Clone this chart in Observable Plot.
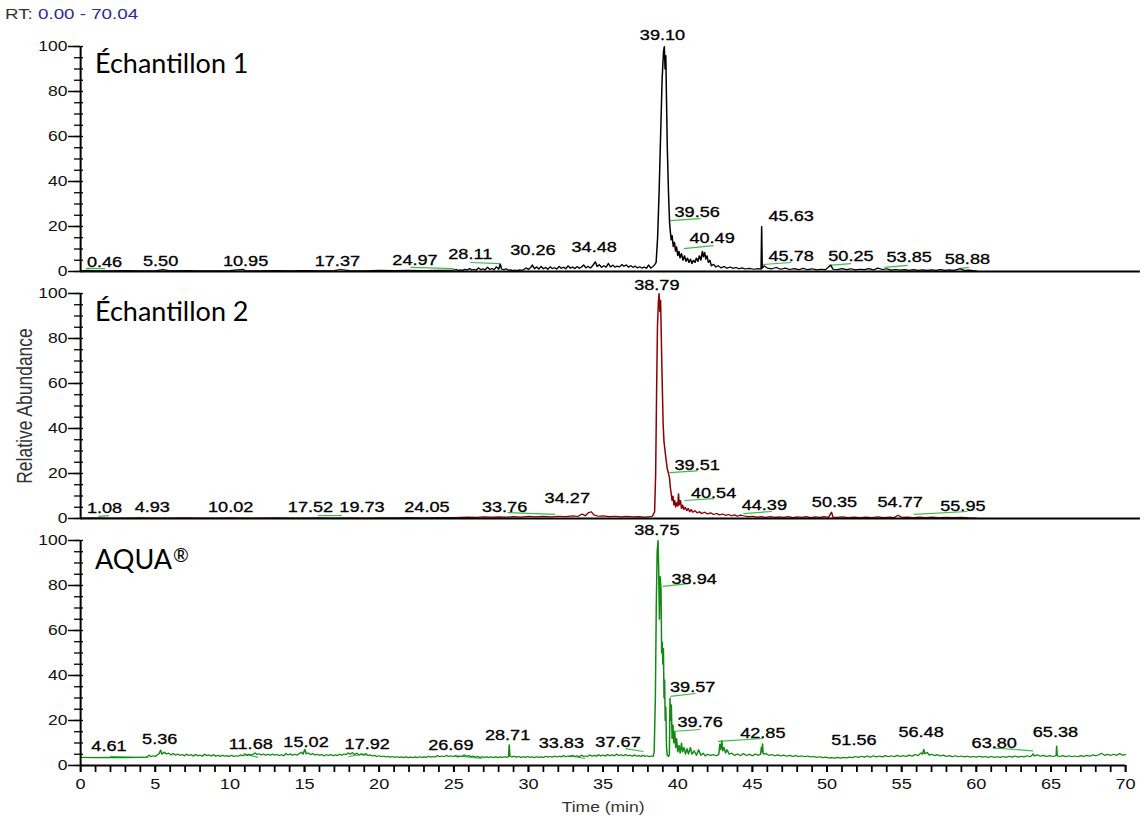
<!DOCTYPE html>
<html><head><meta charset="utf-8">
<script src="https://cdn.jsdelivr.net/npm/d3@7"></script>
<script src="https://cdn.jsdelivr.net/npm/@observablehq/plot@0.6"></script>
<style>
body{margin:0;background:#fff;}
#wrap{position:relative;width:1144px;height:823px;overflow:hidden;background:#fff}
#stretch{position:absolute;left:0;top:0;width:915.2px;height:823px;transform:scaleX(1.25);transform-origin:0 0}
#rt{position:absolute;left:4px;top:5px;font:15px "Liberation Sans",Arial,sans-serif;color:#333;white-space:nowrap}
#rt span{color:#2a2a9c}
.title{position:absolute;left:95px;font:27px Lato,sans-serif;line-height:27px;color:#000;white-space:nowrap}
.title sup{font-size:19px;vertical-align:0;position:relative;top:-7px;margin-left:1px}
</style></head>
<body>
<div id="wrap"><div id="stretch"><div id="rt">RT: <span>0.00 - 70.04</span></div><div id="chart"></div></div></div>
<script>
// ---- data ----
const panelTitles = [["Échantillon 1", ""], ["Échantillon 2", ""], ["AQUA", "®"]];
const panelColors = ["#000000", "#8b0000", "#128a12"];
const xTicks = d3.range(0, 71, 5);
const yTicks = [0, 20, 40, 60, 80, 100];

// Panel 1 trace [time (min), relative abundance (%)]
const trace1 = [[0,0.3],[0.5,0.5],[1,0.3],[2,0.3],[3,0.4],[4,0.3],[5,0.3],[5.5,0.8],[6,0.3],[7,0.4],[8,0.3],[9,0.3],[10,0.4],[10.9,0.9],[11,0.4],[12,0.3],[13,0.4],[14,0.3],[15,0.4],[16,0.3],[17,0.4],[17.4,0.9],[18,0.4],[19,0.3],[20,0.5],[21,0.4],[22,0.5],[23,0.4],[24,0.5],
[25.0,0.6],[25.15,0.9],[25.3,0.5],[25.45,0.7],[25.6,0.5],[25.75,1.0],[25.9,0.6],[26.05,1.3],[26.2,0.7],[26.35,0.9],[26.5,0.6],[26.65,1.6],[26.8,0.8],[26.95,1.2],[27.1,0.7],[27.25,1.9],[27.4,0.9],[27.55,1.3],[27.7,0.8],[27.85,2.1],[28.0,1.0],[28.11,3.3],[28.2,1.1],[28.35,0.8],[28.5,1.2],[28.65,0.6],[28.8,0.7],[28.95,0.4],[29.1,0.6],[29.25,0.4],[29.4,0.7],[29.55,0.5],[29.7,0.9],[29.85,1.6],[30.0,0.9],[30.15,1.8],[30.26,2.9],[30.4,1.2],[30.55,2.0],[30.7,1.1],[30.85,2.3],[31.0,1.2],[31.15,1.8],[31.3,1.0],[31.45,2.1],[31.6,1.3],[31.75,1.7],[31.9,1.1],[32.05,2.3],[32.2,1.4],[32.35,1.9],[32.5,1.2],[32.65,2.5],[32.8,1.5],[32.95,2.0],[33.1,1.3],[33.25,2.2],[33.4,1.4],[33.55,2.0],[33.7,2.9],[33.85,1.6],[34.0,2.3],[34.15,1.5],[34.3,2.6],[34.48,4.3],[34.6,2.2],[34.75,3.0],[34.9,1.8],[35.05,2.6],[35.2,1.9],[35.35,3.6],[35.5,2.0],[35.65,2.8],[35.8,1.9],[35.95,2.4],[36.1,2.0],[36.25,3.1],[36.4,2.3],[36.55,2.9],[36.7,1.9],[36.85,2.6],[37.0,1.8],[37.15,2.4],[37.3,1.6],[37.45,2.1],[37.6,1.5],[37.75,2.0],[37.9,1.4],[38.05,2.9],[38.2,1.5],[38.35,2.3],[38.45,3.0],[38.55,4],
[38.65,15],[38.75,35],[38.85,60],[38.95,85],[39.0,92],[39.05,98],[39.1,100],[39.15,90],[39.2,96],[39.25,75],[39.3,55],[39.38,35],[39.45,22],[39.5,18],[39.56,14],[39.62,16],[39.7,11],[39.78,13],[39.85,9],[39.92,11],[40.0,7],[40.08,9],[40.15,6],[40.25,8],[40.35,5],[40.45,7],[40.55,4.5],[40.65,6],[40.75,4],[40.85,5.5],[40.95,3.5],[41.05,5],[41.15,4],[41.25,6],[41.35,4.5],[41.45,7],[41.55,5],[41.65,9],[41.72,6.5],[41.8,8.5],[41.88,5.5],[41.96,7],[42.05,4],[42.15,5],[42.25,2.5],[42.4,3.2],[42.55,2],[42.7,2.6],[42.9,1.6],[43.1,2.2],[43.3,1.4],[43.5,2.0],[43.7,1.4],[43.9,1.8],[44.1,1.2],[44.3,1.6],[44.5,1.1],[44.8,1.4],[45.1,1.0],[45.4,1.3],[45.58,1.0],[45.62,20],[45.66,1.5],[45.8,2.5],[46.0,1.5],[46.3,1.2],[46.6,1.8],[46.9,1.0],[47.2,1.5],[47.5,0.9],[47.8,1.3],[48.1,0.8],[48.4,1.4],[48.7,0.8],[49.0,1.2],[49.3,0.7],[49.6,1.0],[49.9,0.8],[50.25,2.8],[50.4,1.0],[50.7,0.8],[51.0,1.3],[51.3,0.8],[51.6,1.2],[51.9,0.7],[52.2,1.0],[52.5,0.8],[52.8,1.3],[53.1,0.7],[53.4,1.5],[53.7,0.9],[54.0,1.2],[54.3,0.6],[54.6,0.9],[54.9,0.6],[55.2,0.8],[55.5,0.5],[55.8,0.8],[56.1,0.5],[56.4,0.7],[56.7,0.5],[57.0,0.7],[57.3,0.5],[57.6,0.8],[57.9,0.5],[58.2,0.7],[58.5,0.5],[58.9,1.2],[59.2,0.5],[59.5,0.6],[59.8,0.4],[60.0,0.3]];

// Panel 2 trace
const trace2 = [[0,0.2],[1,0.3],[2,0.2],[3,0.2],[4,0.3],[5,0.2],[6,0.2],[7,0.3],[8,0.2],[9,0.2],[10,0.3],[11,0.2],[12,0.2],[13,0.3],[14,0.2],[15,0.2],[16,0.3],[17,0.2],[18,0.3],[19,0.2],[20,0.3],[21,0.3],[22,0.4],[23,0.3],[24,0.4],[25,0.4],
[25.5,0.5],[26,0.6],[26.5,0.5],[27,0.7],[27.5,0.6],[28,0.7],[28.5,0.6],[29,0.8],[29.5,0.6],[30,0.9],[30.5,0.7],[31,0.9],[31.5,0.7],[32,1.0],[32.5,0.8],[33,1.2],[33.3,0.9],[33.6,2.0],[33.8,1.2],[34.0,2.5],[34.2,3.0],[34.4,1.5],[34.7,1.0],[35,1.2],[35.4,0.8],[35.8,1.0],[36.2,0.7],[36.6,0.9],[37,0.7],[37.4,0.8],[37.8,0.6],[38.1,0.8],[38.3,1.0],[38.45,3],
[38.52,20],[38.58,55],[38.64,85],[38.7,96],[38.75,100],[38.8,92],[38.85,97],[38.9,80],[38.96,60],[39.02,42],[39.08,34],[39.15,30],[39.22,26],[39.3,22],[39.38,20],[39.45,18],[39.5,14],[39.56,11],[39.62,8],[39.68,10],[39.74,6],[39.8,8],[39.86,5],[39.92,7],[40.0,5.5],[40.05,11],[40.1,6],[40.18,8],[40.25,4.5],[40.33,6],[40.4,4],[40.5,5],[40.6,3.5],[40.7,4.5],[40.8,3],[40.9,4],[41.0,2.8],[41.15,3.5],[41.3,2.5],[41.45,3],[41.6,2.2],[41.8,2.8],[42.0,2.0],[42.2,2.5],[42.4,1.8],[42.6,2.2],[42.8,1.6],[43.0,2.0],[43.2,1.4],[43.4,1.8],[43.6,1.2],[43.8,1.6],[44.0,1.0],[44.2,1.5],[44.4,1.2],[44.7,0.8],[45.0,1.0],[45.3,0.6],[45.6,0.8],[45.9,0.5],[46.2,0.8],[46.5,0.5],[46.8,0.7],[47.1,0.5],[47.4,0.8],[47.7,0.4],[48.0,0.7],[48.3,0.5],[48.6,0.8],[48.9,0.4],[49.2,0.7],[49.5,0.5],[49.8,0.8],[50.1,0.5],[50.3,2.8],[50.4,0.6],[50.7,0.5],[51.0,0.7],[51.4,0.4],[51.8,0.6],[52.2,0.4],[52.6,0.6],[53.0,0.4],[53.4,0.7],[53.8,0.4],[54.2,0.6],[54.5,0.4],[54.75,1.4],[55.0,0.5],[55.4,0.6],[55.8,0.4],[56.2,0.6],[56.6,0.4],[57.0,0.6],[57.5,0.4],[58.0,0.5],[58.5,0.4],[59.0,0.5],[59.5,0.3],[60.0,0.2]];

// Panel 3 trace
const trace3 = [[0,3.6],[1,3.5],[2,3.6],[3,3.5],[4,3.6],[4.4,3.7],[4.6,4.6],[4.7,3.9],[4.85,4.3],[5.0,4.0],[5.15,4.8],[5.25,5.2],[5.36,6.8],[5.45,5.0],[5.6,5.9],[5.75,5.1],[5.9,5.5],[6.05,4.7],[6.2,5.3],[6.35,4.6],[6.5,5.1],[6.65,4.5],[6.8,4.9],[6.95,4.3],[7.1,5.0],[7.25,4.4],[7.4,4.8],[7.55,4.2],[7.7,4.9],[7.85,4.3],[8.0,4.6],[8.15,4.1],[8.3,5.0],[8.45,4.4],[8.6,4.7],[8.75,4.2],[8.9,4.8],[9.05,4.1],[9.2,4.5],[9.35,4.0],[9.5,4.6],[9.65,4.1],[9.8,4.4],[9.95,4.0],[10.1,4.5],[10.25,4.0],[10.4,4.3],[10.55,4.1],[10.7,4.7],[10.85,4.3],[11.0,4.8],[11.15,4.4],[11.3,5.0],[11.45,4.6],[11.6,5.2],[11.68,5.6],[11.8,4.9],[11.95,5.2],[12.1,4.7],[12.25,5.1],[12.4,4.6],[12.55,5.0],[12.7,4.5],[12.85,5.1],[13.0,4.6],[13.15,4.9],[13.3,4.4],[13.45,4.8],[13.6,4.3],[13.75,5.4],[13.9,4.6],[14.05,5.2],[14.2,4.5],[14.35,5.0],[14.5,4.6],[14.65,5.3],[14.8,5.9],[14.9,5.0],[15.02,7.2],[15.12,5.1],[15.25,5.6],[15.4,4.8],[15.55,5.3],[15.7,4.6],[15.85,5.0],[16.0,4.5],[16.15,4.9],[16.3,4.3],[16.45,4.8],[16.6,4.4],[16.75,4.9],[16.9,4.3],[17.05,4.7],[17.2,4.4],[17.35,5.0],[17.5,4.5],[17.65,5.1],[17.8,4.8],[17.92,5.6],[18.05,5.0],[18.2,5.7],[18.35,4.9],[18.5,5.5],[18.65,4.7],[18.8,5.2],[18.95,4.5],[19.1,5.0],[19.25,4.4],[19.4,4.7],[19.55,4.2],[19.7,4.5],[19.85,4.0],[20.0,4.3],[20.15,3.9],[20.3,4.2],[20.45,3.8],[20.6,4.0],[20.75,3.7],[20.9,4.0],[21.05,3.6],[21.2,3.9],[21.35,3.6],[21.5,3.8],[21.65,3.5],[21.8,3.8],[21.95,3.5],[22.1,3.7],[22.25,3.5],[22.4,3.8],[22.55,3.5],[22.7,3.9],[22.85,3.6],[23.0,3.8],[23.15,3.6],[23.3,4.1],[23.45,3.7],[23.6,4.0],[23.75,3.8],[23.9,4.4],[24.05,3.9],[24.2,4.2],[24.35,3.9],[24.5,4.5],[24.65,4.0],[24.8,4.3],[24.95,3.9],[25.1,4.3],[25.25,3.8],[25.4,4.1],[25.55,4.0],[25.7,4.7],[25.85,4.1],[26.0,4.4],[26.15,3.9],[26.3,4.2],[26.45,3.7],[26.6,4.0],[26.75,3.6],[26.9,3.9],[27.05,3.6],[27.2,3.8],[27.35,3.5],[27.5,3.9],[27.65,3.5],[27.8,3.8],[27.95,3.5],[28.1,3.8],[28.25,3.6],[28.4,3.9],[28.55,3.6],[28.66,4.0],[28.71,9.2],[28.76,4.1],[28.9,3.8],[29.05,4.1],[29.2,3.7],[29.35,4.0],[29.5,3.6],[29.65,3.9],[29.8,3.6],[29.95,4.0],[30.1,3.6],[30.25,3.9],[30.4,3.5],[30.55,3.9],[30.7,3.6],[30.85,3.8],[31.0,3.6],[31.15,4.1],[31.3,3.7],[31.45,4.0],[31.6,3.7],[31.75,4.2],[31.9,3.8],[32.05,4.1],[32.2,3.8],[32.35,4.4],[32.5,3.9],[32.65,4.2],[32.8,3.9],[32.95,4.5],[33.1,4.0],[33.25,4.3],[33.4,3.9],[33.55,4.6],[33.7,4.0],[33.83,4.2],[33.95,4.0],[34.1,4.7],[34.25,4.1],[34.4,4.5],[34.55,4.1],[34.7,4.8],[34.85,4.2],[35.0,4.6],[35.15,4.2],[35.3,4.9],[35.45,4.3],[35.6,4.7],[35.75,4.3],[35.9,5.1],[36.05,4.4],[36.2,4.8],[36.35,4.3],[36.5,4.9],[36.65,4.3],[36.8,4.6],[36.95,4.1],[37.1,4.7],[37.25,4.1],[37.4,4.4],[37.55,4.0],[37.67,4.6],[37.8,4.0],[37.95,4.3],[38.1,3.9],[38.25,4.2],[38.35,4.0],[38.42,6],
[38.5,30],[38.56,70],[38.62,95],[38.68,100],[38.72,88],[38.77,65],[38.82,84],[38.88,78],[38.92,50],[38.96,55],[39.0,45],[39.04,52],[39.08,30],[39.12,38],[39.16,20],[39.2,26],[39.25,8],[39.3,4.5],[39.38,4],[39.44,5],[39.48,30],[39.52,20],[39.57,27],[39.62,12],[39.68,18],[39.74,10],[39.8,15],[39.86,8],[39.92,12],[40.0,6],[40.08,9],[40.16,5.5],[40.25,10],[40.32,6],[40.42,8],[40.52,5],[40.62,7.5],[40.72,5],[40.85,8],[40.95,5],[41.1,6.5],[41.25,4.5],[41.4,7],[41.55,4.5],[41.7,5.5],[41.85,4.2],[42.0,5.0],[42.2,4.5],[42.4,4.8],[42.6,4.3],[42.75,5],[42.82,9.5],[42.88,7],[42.95,11],[43.02,6.5],[43.1,8],[43.2,5.5],[43.3,7],[43.45,5],
[43.6,5.5],[43.8,4.5],[44.0,5.1],[44.2,4.4],[44.4,5.3],[44.6,4.4],[44.8,5.0],[45.0,4.3],[45.2,5.1],[45.4,4.5],[45.55,5.0],[45.6,8.2],[45.65,6],[45.68,9.6],[45.72,5.2],[45.9,5.3],[46.1,4.5],[46.3,4.9],[46.5,4.3],[46.7,4.7],[46.9,4.2],[47.1,4.6],[47.3,4.1],[47.5,4.5],[47.7,4.0],[47.9,4.4],[48.1,4.0],[48.3,4.3],[48.5,3.9],[48.7,4.2],[48.9,3.8],[49.1,4.0],[49.3,3.6],[49.5,3.9],[49.7,3.5],[49.9,3.7],[50.1,3.3],[50.3,3.5],[50.5,3.3],[50.7,3.6],[50.9,3.3],[51.1,3.6],[51.3,3.4],[51.5,3.7],[51.7,3.5],[51.9,4.0],[52.1,3.6],[52.3,4.1],[52.5,3.7],[52.7,4.2],[52.9,3.7],[53.1,4.3],[53.3,3.8],[53.5,4.2],[53.7,3.8],[53.9,4.4],[54.1,3.9],[54.3,4.3],[54.5,3.9],[54.7,4.5],[54.9,4.0],[55.1,4.4],[55.3,4.0],[55.5,4.6],[55.7,4.1],[55.9,4.9],[56.1,4.4],[56.3,5.6],[56.4,5.0],[56.48,7.2],[56.55,5.2],[56.7,5.8],[56.85,4.6],[57.0,5.0],[57.2,4.4],[57.4,4.8],[57.6,4.2],[57.8,4.6],[58.0,4.0],[58.2,4.4],[58.4,3.9],[58.6,4.3],[58.8,3.9],[59.0,4.2],[59.2,3.8],[59.4,4.1],[59.6,3.7],[59.8,4.0],[60.0,3.7],[60.2,4.1],[60.4,3.7],[60.6,4.0],[60.8,3.6],[61.0,4.0],[61.2,3.6],[61.4,3.9],[61.6,3.6],[61.8,4.0],[62.0,3.6],[62.2,4.1],[62.4,3.7],[62.6,4.2],[62.8,3.7],[63.0,4.1],[63.2,3.8],[63.4,4.3],[63.6,3.9],[63.75,4.6],[63.8,5.2],[63.9,4.2],[64.1,4.7],[64.3,4.1],[64.5,4.5],[64.7,4.0],[64.9,4.4],[65.1,4.0],[65.3,4.3],[65.35,4.5],[65.38,8.6],[65.42,4.3],[65.6,4.0],[65.8,4.4],[66.0,3.9],[66.2,4.3],[66.4,3.9],[66.6,4.2],[66.8,3.9],[67.0,4.4],[67.2,4.0],[67.4,4.5],[67.6,4.1],[67.8,4.7],[68.0,4.3],[68.2,4.8],[68.4,5.4],[68.6,4.5],[68.8,5.0],[69.0,4.4],[69.2,5.0],[69.4,4.5],[69.6,5.3],[69.8,4.6],[70.0,4.8]];

// Peak labels [text, x (min), y (%)]
const labels1 = [["39.10",38.98,105],["39.56",41.3,26.5],["40.49",42.3,14.6],["45.63",47.6,24.3],["45.78",47.6,6.6],["50.25",51.6,6.6],["53.85",55.5,6.2],["58.88",59.4,5.3],["0.46",1.6,4],["5.50",5.36,4.4],["10.95",11.05,4.4],["17.37",17.2,4.4],["24.97",22.4,4.9],["28.11",26.1,7.5],["30.26",30.3,9.3],["34.48",34.4,10.6]];
const labels2 = [["38.79",38.6,103.5],["39.51",41.3,23.5],["40.54",42.4,11],["44.39",45.8,5.8],["50.35",50.5,7],["54.77",54.9,7],["55.95",59.1,5.3],["34.27",32.6,8.8],["33.76",28.4,4.9],["24.05",23.2,4.9],["19.73",18.85,4.9],["17.52",15.4,4.9],["10.02",10.05,4.9],["4.93",4.8,4.9],["1.08",1.6,4.4]];
const labels3 = [["38.75",38.6,104.4],["38.94",41.1,82.7],["39.57",41.0,34.7],["39.76",41.5,19.1],["42.85",45.7,14.2],["51.56",51.8,11.1],["56.48",56.3,14.7],["63.80",61.2,9.8],["65.38",65.3,14.7],["37.67",36.0,10.2],["33.83",32.2,9.8],["28.71",28.6,13.3],["26.69",24.8,8.9],["17.92",19.2,9.3],["15.02",15.1,10.2],["11.68",11.4,9.3],["5.36",5.3,11.6],["4.61",1.9,8.4]];

// Green integration leaders [x1, y1, x2, y2]
const leaders1 = [[0.35,1.4,1.65,1.3],[22.1,1.8,25.0,1.3],[26.1,4.0,28.1,3.5],[39.5,22.6,41.5,23.5],[40.4,10.2,42.4,11.5],[45.7,3.1,47.6,4.0],[50.1,2.7,51.6,3.5],[53.85,1.8,55.4,2.7],[58.8,1.3,59.5,1.8]];
const leaders2 = [[1.2,0.9,1.9,1.3],[15.9,1.3,17.5,1.3],[28.6,2.6,31.8,1.8],[39.45,20.4,41.3,21.2],[40.45,8.0,42.4,8.8],[44.4,2.2,46.3,3.1],[55.8,1.8,59.4,3.1]];
const leaders3 = [[2.0,4.0,4.55,3.6],[10.9,5.3,11.9,3.6],[17.95,4.0,19.2,5.3],[25.05,4.4,26.9,3.1],[32.7,4.4,33.8,3.1],[36.5,7.5,37.7,6.2],[39.0,79.6,40.85,80.9],[39.5,30.7,41.2,32],[39.65,15.1,41.5,16],[42.7,10.7,45.7,12],[61.1,7.8,63.8,6.5]];

// ---- build tables ----
const P = ["1", "2", "3"];
const toRows = (arr, p) => arr.map(([t, v]) => ({t, v, p}));
const labRows = (arr, p) => arr.map(([text, x, y]) => ({text, x, y, p}));
const leadRows = (arr, p) => arr.map(([x1, y1, x2, y2]) => ({x1, y1, x2, y2, p}));
const labels = [...labRows(labels1, "1"), ...labRows(labels2, "2"), ...labRows(labels3, "3")];
const leaders = [...leadRows(leaders1, "1"), ...leadRows(leaders2, "2"), ...leadRows(leaders3, "3")];
const baselines = [{p: "1", x2: 71}, {p: "2", x2: 71}, {p: "3", x2: 70}];

const chart = Plot.plot({
  width: 915.2, height: 823,
  marginLeft: 64, marginRight: 15.2, marginTop: 45, marginBottom: 57,
  style: {background: "transparent", overflow: "visible", fontFamily: "'Liberation Sans', Arial, sans-serif", color: "#000"},
  x: {domain: [0, 70], axis: null},
  y: {domain: [0, 100], axis: null},
  fy: {domain: P, paddingInner: 0.0887, paddingOuter: 0, axis: null},
  marks: [
    Plot.link(leaders, {x1: "x1", y1: "y1", x2: "x2", y2: "y2", fy: "p", stroke: "#3dbb47", strokeWidth: 1.2}),
    Plot.line(toRows(trace1, "1"), {x: "t", y: "v", fy: "p", stroke: panelColors[0], strokeWidth: 1.2}),
    Plot.line(toRows(trace2, "2"), {x: "t", y: "v", fy: "p", stroke: panelColors[1], strokeWidth: 1.2}),
    Plot.line(toRows(trace3, "3"), {x: "t", y: "v", fy: "p", stroke: panelColors[2], strokeWidth: 1.2}),
    Plot.ruleY(baselines, {y: 0, x1: 0, x2: "x2", fy: "p", stroke: "#000", strokeWidth: 2}),
    Plot.ruleX([0], {stroke: "#000", strokeWidth: 1.6}),
    Plot.axisY({ticks: yTicks, tickSize: 9.6, tickPadding: 1, fontSize: 14, fill: "#111", label: null, strokeWidth: 1.5}),
    Plot.axisY({ticks: d3.range(0, 101, 5), tickSize: 7.2, dx: 2.4, text: null, label: null, strokeWidth: 1.3}),
    Plot.axisX({ticks: xTicks, tickSize: 7, tickPadding: 6, fontSize: 14.5, fill: "#111", label: null, strokeWidth: 1.4, facetAnchor: "bottom"}),
    Plot.axisX({ticks: d3.range(0, 71, 1), tickSize: 7, text: null, label: null, strokeWidth: 1.4, facetAnchor: "bottom"}),
    Plot.text(labels, {x: "x", y: "y", text: "text", fy: "p", fontSize: 14.5, fill: "#000", stroke: "#000", strokeWidth: 0.3}),
    Plot.text([{p: "2"}], {fy: "p", text: () => "Relative Abundance", frameAnchor: "left", textAnchor: "middle", lineAnchor: "middle", rotate: -90, dx: -44.8, fontSize: 17.5, fill: "#333"}),
    Plot.text([{p: "3"}], {fy: "p", text: () => "Time (min)", frameAnchor: "bottom", lineAnchor: "middle", dy: 42, fontSize: 14, fill: "#333"})
  ]
});
document.getElementById("chart").append(chart);

const wrap = document.getElementById("wrap");
panelTitles.forEach(([t, sup], i) => {
  const d = document.createElement("div");
  d.className = "title";
  d.style.top = (49 + 248 * i) + "px";
  d.textContent = t;
  if (sup) { const s = document.createElement("sup"); s.textContent = sup; d.append(s); }
  wrap.append(d);
});
</script>
</body></html>
